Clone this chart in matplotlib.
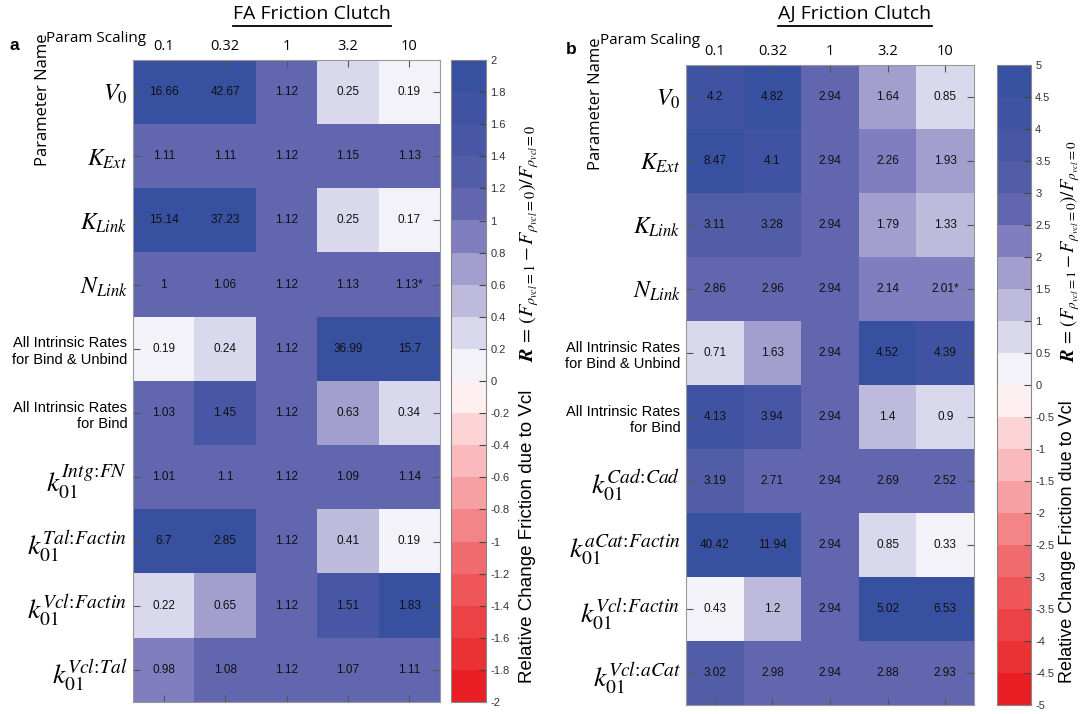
import numpy as np
import matplotlib
matplotlib.use('Agg')
import matplotlib.pyplot as plt
from matplotlib.colors import ListedColormap, Normalize
from matplotlib.cm import ScalarMappable
from matplotlib.lines import Line2D

plt.rcParams['font.family'] = ['Liberation Sans', 'DejaVu Sans']
plt.rcParams['mathtext.fontset'] = 'stix'
plt.rcParams['axes.unicode_minus'] = False

# data
scalings = ['0.1', '0.32', '1', '3.2', '10']

fa_rows = [r'$V_0$', r'$K_{Ext}$', r'$K_{Link}$', r'$N_{Link}$',
           'All Intrinsic Rates\nfor Bind & Unbind', 'All Intrinsic Rates\nfor Bind',
           r'$k_{01}^{Intg\!:\!FN}$', r'$k_{01}^{Tal\!:\!Factin}$',
           r'$k_{01}^{Vcl\!:\!Factin}$', r'$k_{01}^{Vcl\!:\!Tal}$']
fa_values = np.array([
    [16.66, 42.67, 1.12, 0.25, 0.19],
    [1.11, 1.11, 1.12, 1.15, 1.13],
    [15.14, 37.23, 1.12, 0.25, 0.17],
    [1, 1.06, 1.12, 1.13, 1.13],
    [0.19, 0.24, 1.12, 36.99, 15.7],
    [1.03, 1.45, 1.12, 0.63, 0.34],
    [1.01, 1.1, 1.12, 1.09, 1.14],
    [6.7, 2.85, 1.12, 0.41, 0.19],
    [0.22, 0.65, 1.12, 1.51, 1.83],
    [0.98, 1.08, 1.12, 1.07, 1.11],
])
fa_star = (3, 4)

aj_rows = [r'$V_0$', r'$K_{Ext}$', r'$K_{Link}$', r'$N_{Link}$',
           'All Intrinsic Rates\nfor Bind & Unbind', 'All Intrinsic Rates\nfor Bind',
           r'$k_{01}^{Cad\!:\!Cad}$', r'$k_{01}^{aCat\!:\!Factin}$',
           r'$k_{01}^{Vcl\!:\!Factin}$', r'$k_{01}^{Vcl\!:\!aCat}$']
aj_values = np.array([
    [4.2, 4.82, 2.94, 1.64, 0.85],
    [8.47, 4.1, 2.94, 2.26, 1.93],
    [3.11, 3.28, 2.94, 1.79, 1.33],
    [2.86, 2.96, 2.94, 2.14, 2.01],
    [0.71, 1.63, 2.94, 4.52, 4.39],
    [4.13, 3.94, 2.94, 1.4, 0.9],
    [3.19, 2.71, 2.94, 2.69, 2.52],
    [40.42, 11.94, 2.94, 0.85, 0.33],
    [0.43, 1.2, 2.94, 5.02, 6.53],
    [3.02, 2.98, 2.94, 2.88, 2.93],
])
aj_star = (3, 4)

# 20-level red-white-blue map
blues = [(242, 242, 248), (218, 216, 236), (190, 186, 220), (162, 158, 206),
         (128, 126, 190), (98, 102, 174), (82, 93, 168), (72, 87, 165),
         (63, 83, 162), (55, 80, 160)]
reds = [(254, 240, 240), (252, 212, 214), (250, 186, 189), (246, 160, 163),
        (243, 132, 135), (240, 107, 110), (238, 86, 89), (236, 66, 69),
        (234, 50, 53), (232, 30, 36)]
cmap = ListedColormap(np.array(reds[::-1] + blues) / 255.0)

fig = plt.figure(figsize=(10.81, 7.14), dpi=100)
W, H = 1081.0, 714.0


def rect(x0, y0, x1, y1):
    return [x0 / W, 1 - y1 / H, (x1 - x0) / W, (y1 - y0) / H]


def panel(box, cbox, rows, values, star, vmax, step, title, title_x, letter, letter_xy,
          ps_xy, pn_xy, lab_x, lab_size, math_size):
    ax = fig.add_axes(rect(*box))
    norm = Normalize(-vmax, vmax)
    ax.imshow(values, cmap=cmap, norm=norm, aspect='auto', interpolation='nearest')
    for i in range(values.shape[0]):
        for j in range(values.shape[1]):
            s = '%g' % values[i, j]
            if (i, j) == star:
                s += '*'
            ax.text(j, i, s, ha='center', va='center', fontsize=8.5, color='#111111')
    ax.set_xticks(range(len(scalings)))
    ax.set_xticklabels(scalings, family='Open Sans', fontsize=10.5)
    ax.set_yticks(range(len(rows)))
    ax.set_yticklabels(rows)
    for t in ax.get_yticklabels():
        txt = t.get_text()
        if txt.startswith('$k'):
            t.set_fontsize(20)
        elif txt.startswith('$'):
            t.set_fontsize(17)
        else:
            t.set_fontsize(10.5)
            t.set_multialignment('right')
    ax.xaxis.tick_top()
    ax.tick_params(axis='x', top=True, bottom=True, labeltop=True, labelbottom=False,
                   direction='in', length=5, color='#555555', pad=4)
    ax.tick_params(axis='y', left=True, right=True, direction='in', length=5,
                   color='#555555', pad=4)
    for sp in ax.spines.values():
        sp.set_edgecolor('#999999')

    cax = fig.add_axes(rect(*cbox))
    ticks = np.arange(-vmax, vmax + step / 2, step)
    cb = fig.colorbar(ScalarMappable(norm=norm, cmap=cmap), cax=cax, ticks=ticks)
    cb.ax.set_yticklabels(['%g' % (round(v, 2) + 0.0) for v in ticks])
    cb.ax.tick_params(direction='in', length=5, labelsize=8, color='#444444',
                      labelcolor='#333333', pad=3)
    cb.outline.set_edgecolor('#888888')

    fig.text(lab_x / W, 1 - 683 / H, 'Relative Change Friction due to Vcl',
             rotation=90, ha='center', va='bottom', fontsize=lab_size)
    fig.text((lab_x + 2) / W, 1 - 362 / H,
             r'$\mathbfit{R}\,=\,\left(F_{\rho_{vcl}=1}-F_{\rho_{vcl}=0}\right)/F_{\rho_{vcl}=0}$',
             rotation=90, ha='center', va='bottom', fontsize=math_size)

    t = fig.text(title_x / W, 1 - 14 / H, title, family='Open Sans', fontsize=14,
                 ha='center', va='center')
    fig.text(letter_xy[0] / W, 1 - letter_xy[1] / H, letter, fontsize=12.5,
             fontweight='bold', ha='left', va='center')
    fig.text(ps_xy[0] / W, 1 - ps_xy[1] / H, 'Param Scaling', family='Open Sans',
             fontsize=11, ha='left', va='center')
    fig.text(pn_xy[0] / W, 1 - pn_xy[1] / H, 'Parameter Name', family='Open Sans',
             fontsize=12, rotation=90, ha='center', va='top')
    return t


t1 = panel((133, 60, 440, 702), (451, 60, 486, 702), fa_rows, fa_values, fa_star,
           2.0, 0.2, 'FA Friction Clutch', 312, 'a', (10, 46), (46, 39), (43, 33),
           527, 13.5, 14.5)
t2 = panel((686, 65, 974, 705), (997, 65, 1031, 705), aj_rows, aj_values, aj_star,
           5.0, 0.5, 'AJ Friction Clutch', 855, 'b', (566, 49), (600, 41), (596, 38),
           1068, 13, 13.5)

# underline titles
fig.canvas.draw()
r = fig.canvas.get_renderer()
for t in (t1, t2):
    bb = t.get_window_extent(r).transformed(fig.transFigure.inverted())
    fig.add_artist(Line2D([bb.x0, bb.x1], [bb.y0 - 0.004, bb.y0 - 0.004],
                          transform=fig.transFigure, color='black', lw=1.3))

fig.savefig('out.png', dpi=100)
